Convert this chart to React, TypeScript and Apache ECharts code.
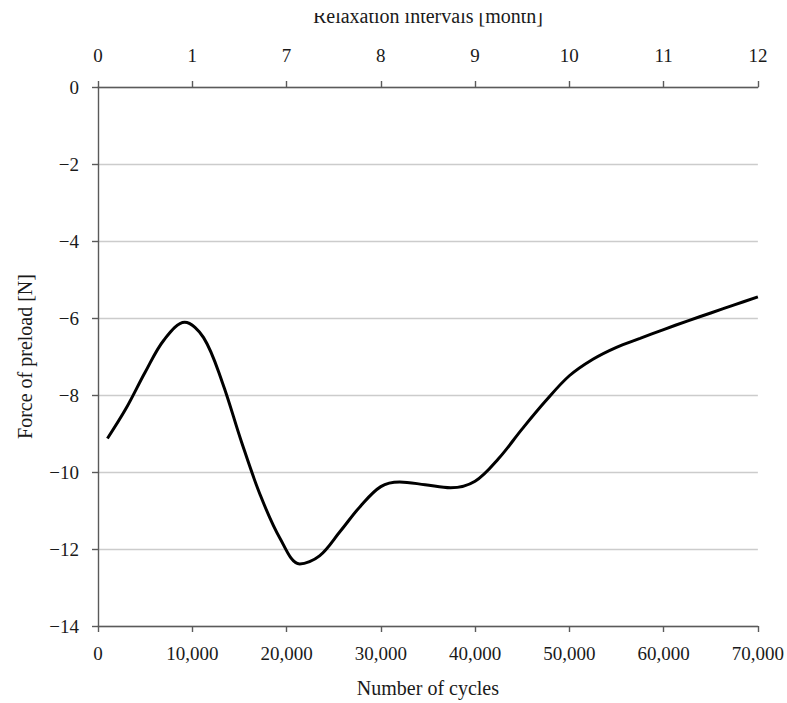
import React, { useEffect, useRef } from "react";
import * as echarts from "echarts";

const cycles = [1000, 3000, 5000, 7000, 9200, 11200, 13200, 15200, 17200, 19300, 21400, 23500, 25700, 27800, 30000, 32000, 34700, 37400, 40000, 42500, 45000, 47500, 50000, 52500, 55000, 57500, 60000, 62500, 65000, 67500, 70000];
const force = [-9.13, -8.34, -7.41, -6.57, -6.11, -6.51, -7.68, -9.2, -10.59, -11.72, -12.39, -12.18, -11.54, -10.9, -10.38, -10.26, -10.33, -10.41, -10.24, -9.65, -8.88, -8.15, -7.5, -7.07, -6.76, -6.53, -6.3, -6.08, -5.87, -5.66, -5.45];
const monthLabels = ["0", "1", "7", "8", "9", "10", "11", "12"];
const cycleLabels = ["0", "10,000", "20,000", "30,000", "40,000", "50,000", "60,000", "70,000"];

const FONT = "Liberation Serif";
const TICK_SIZE = 19;
const NAME_SIZE = 20;

export default function App() {
  const ref = useRef<HTMLDivElement>(null);
  useEffect(() => {
    document.body.style.margin = "0";
    const chart = echarts.init(ref.current!, null, { renderer: "svg" });
    const axisLineColor = "#5a5a5a";
    const textColor = "#1a1a1a";
    const fmtNum = (v: number) => (v < 0 ? "\u2212" + Math.abs(v) : String(v));
    const commonAxis = {
      axisLine: { show: true, onZero: false, lineStyle: { color: axisLineColor, width: 1.4 } },
      axisTick: { show: true, inside: false, length: 6, lineStyle: { color: axisLineColor, width: 1.4 } },
    };
    chart.setOption({
      animation: false,
      backgroundColor: "#ffffff",
      textStyle: { fontFamily: FONT },
      grid: { left: 98, right: 29, top: 87, bottom: 75, containLabel: false },
      xAxis: [
        {
          type: "value",
          position: "bottom",
          min: 0,
          max: 70000,
          interval: 10000,
          name: "Number of cycles",
          nameLocation: "middle",
          nameGap: 62,
          nameTextStyle: { fontFamily: FONT, fontSize: NAME_SIZE, color: textColor, verticalAlign: "middle" },
          ...commonAxis,
          axisLabel: {
            margin: 18,
            fontFamily: FONT,
            fontSize: TICK_SIZE,
            color: textColor,
            formatter: (v: number) => cycleLabels[Math.round(v / 10000)] ?? "",
          },
          splitLine: { show: false },
        },
        {
          type: "value",
          position: "top",
          min: 0,
          max: 70000,
          interval: 10000,
          name: "Relaxation intervals [month]",
          nameLocation: "middle",
          nameGap: 71,
          nameTextStyle: { fontFamily: FONT, fontSize: NAME_SIZE, color: textColor, verticalAlign: "middle" },
          ...commonAxis,
          axisLabel: {
            margin: 22,
            fontFamily: FONT,
            fontSize: TICK_SIZE,
            color: textColor,
            formatter: (v: number) => monthLabels[Math.round(v / 10000)] ?? "",
          },
          splitLine: { show: false },
        },
      ],
      yAxis: {
        type: "value",
        min: -14,
        max: 0,
        interval: 2,
        name: "Force of preload [N]",
        nameLocation: "middle",
        nameGap: 73,
        nameRotate: 90,
        nameTextStyle: { fontFamily: FONT, fontSize: NAME_SIZE, color: textColor, verticalAlign: "middle" },
        ...commonAxis,
        axisLabel: { margin: 19, fontFamily: FONT, fontSize: TICK_SIZE, color: textColor, formatter: fmtNum },
        splitLine: { show: true, lineStyle: { color: "#cccccc", width: 1.4 } },
      },
      graphic: [
        {
          type: "rect",
          z: 100,
          silent: true,
          shape: { x: 0, y: 0, width: 787, height: 13 },
          style: { fill: "#ffffff" },
        },
      ],
      series: [
        {
          type: "line",
          xAxisIndex: 0,
          yAxisIndex: 0,
          data: cycles.map((c, i) => [c, force[i]]),
          smooth: 0.35,
          showSymbol: false,
          symbol: "none",
          lineStyle: { color: "#000000", width: 3 },
        },
      ],
    });
    return () => chart.dispose();
  }, []);
  return <div ref={ref} style={{ width: 787, height: 703 }} />;
}
